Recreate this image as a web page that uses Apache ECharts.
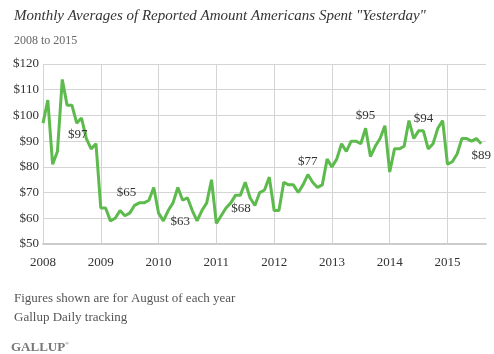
<!DOCTYPE html>
<html>
<head>
<meta charset="utf-8">
<style>
html,body{margin:0;padding:0;background:#fff;}
#chart{width:494px;height:354px;}
</style>
<script src="https://cdn.jsdelivr.net/npm/echarts@6/dist/echarts.min.js"></script>
</head>
<body>
<div id="chart"></div>
<script>
// ---- Data ----
const yearLabels = ['2008','2009','2010','2011','2012','2013','2014','2015'];
const yTicks = [50, 60, 70, 80, 90, 100, 110, 120];
// Monthly averages, Jan 2008 .. Aug 2015
const spend2008 = [97, 106, 81, 86, 114, 104, 104, 97, 99, 91, 87, 89];
const spend2009 = [64, 64, 59, 60, 63, 61, 62, 65, 66, 66, 67, 72];
const spend2010 = [62, 59, 63, 66, 72, 67, 68, 63, 59, 63, 66, 75];
const spend2011 = [58, 61, 64, 66, 69, 69, 74, 68, 65, 70, 71, 76];
const spend2012 = [63, 63, 74, 73, 73, 70, 73, 77, 74, 72, 73, 83];
const spend2013 = [80, 83, 89, 86, 90, 90, 89, 95, 84, 88, 91, 96];
const spend2014 = [78, 87, 87, 88, 98, 91, 94, 94, 87, 89, 95, 98];
const spend2015 = [81, 82, 85, 91, 91, 90, 91, 89];
// August labels shown on the chart
const augustLabels = ['$97','$65','$63','$68','$77','$95','$94','$89'];

const values = [].concat(spend2008, spend2009, spend2010, spend2011,
                         spend2012, spend2013, spend2014, spend2015);

// categories: one per month, plus one empty month at the end of the axis
const categories = [];
yearLabels.forEach(y => { for (let m = 1; m <= 12; m++) categories.push(y + '-' + (m < 10 ? '0' : '') + m); });
categories.length = values.length + 1;

// label placement (style, not data)
const labelStyle = [
  {position:'bottom', offset:[1,0]},
  {position:'top', offset:[-8,-1]},
  {position:'bottom', offset:[-12,0]},
  {position:'bottom', offset:[-9,-1]},
  {position:'top', offset:[0,-1]},
  {position:'top', offset:[0,-1]},
  {position:'top', offset:[0,-1]},
  {position:'bottom', offset:[0,0]}
];

const serif = 'Liberation Serif';
const seriesData = values.map((v, i) => {
  if (i % 12 === 7) {
    const k = Math.floor(i / 12);
    return {
      value: v,
      label: Object.assign({
        show: true,
        formatter: augustLabels[k],
        fontFamily: serif,
        fontSize: 13,
        color: '#333'
      }, labelStyle[k])
    };
  }
  return v;
});

const chart = echarts.init(document.getElementById('chart'));
chart.setOption({
  animation: false,
  backgroundColor: '#fff',
  title: [
    {text: 'Monthly Averages of Reported Amount Americans Spent "Yesterday"', left: 9, top: 4,
     textStyle: {fontFamily: serif, fontStyle: 'italic', fontWeight: 'normal', fontSize: 15, color: '#333'}},
    {text: '2008 to 2015', left: 9, top: 30,
     textStyle: {fontFamily: serif, fontWeight: 'normal', fontSize: 12, color: '#666'}},
    {text: 'Figures shown are for August of each year', left: 9, top: 287,
     textStyle: {fontFamily: serif, fontWeight: 'normal', fontSize: 13, color: '#555'}},
    {text: 'Gallup Daily tracking', left: 9, top: 306,
     textStyle: {fontFamily: serif, fontWeight: 'normal', fontSize: 13, color: '#555'}},
    {text: '{a|GALLUP}{b|®}', left: 6, top: 336,
     textStyle: {rich: {
       a: {fontFamily: serif, fontSize: 13, color: '#777'},
       b: {fontFamily: serif, fontSize: 5, color: '#777', verticalAlign: 'top', padding:[0,0,6,0]}
     }}}
  ],
  grid: {left: 43, right: 8, top: 64, bottom: 110, containLabel: false},
  xAxis: {
    type: 'category',
    data: categories,
    boundaryGap: false,
    axisLine: {show: true, lineStyle: {color: '#cccccc', width: 2}},
    axisTick: {show: false},
    axisLabel: {
      interval: (i) => i % 12 === 0,
      formatter: (v) => v.slice(0, 4),
      fontFamily: serif, fontSize: 13, color: '#333', margin: 12
    },
    splitLine: {show: true, interval: (i) => i % 12 === 0, lineStyle: {color: '#d4d4d4', width: 1}}
  },
  yAxis: {
    type: 'value',
    min: yTicks[0], max: yTicks[yTicks.length - 1], interval: 10,
    axisLine: {show: false},
    axisTick: {show: false},
    axisLabel: {formatter: (v) => '$' + v, fontFamily: serif, fontSize: 13, color: '#333', margin: 4},
    splitLine: {show: true, lineStyle: {color: '#d4d4d4', width: 1}}
  },
  series: [{
    type: 'line',
    data: seriesData,
    showSymbol: true,
    showAllSymbol: true,
    symbol: 'circle',
    symbolSize: 0,
    lineStyle: {color: '#5dba4c', width: 3},
    itemStyle: {color: '#5dba4c'},
    emphasis: {disabled: true}
  }]
});
</script>
</body>
</html>
